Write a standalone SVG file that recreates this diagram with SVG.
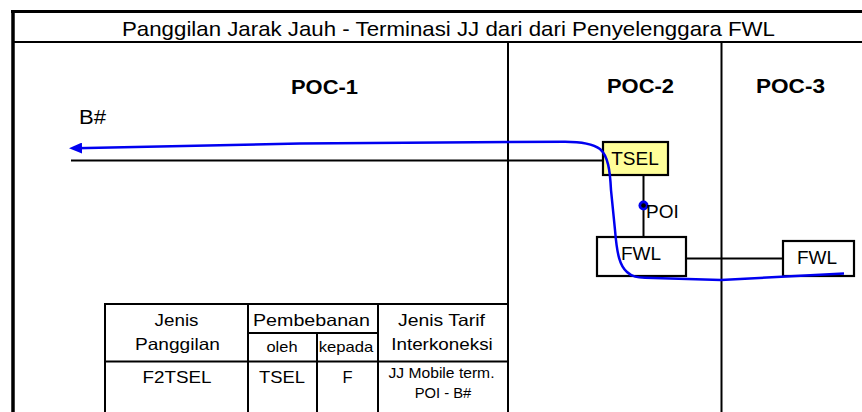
<svg xmlns="http://www.w3.org/2000/svg" width="862" height="412" viewBox="0 0 862 412">
<style>
text{font-family:"Liberation Sans",Arial,sans-serif;fill:#000}
.t{font-size:21px}
.poc{font-size:20px;font-weight:bold;text-anchor:middle}
.lbl{font-size:19px;text-anchor:middle}
.cell{font-size:16.5px;text-anchor:middle}
.sm{font-size:15px;text-anchor:middle}
.xs{font-size:14px;text-anchor:middle}
.ln{stroke:#000;stroke-width:2;fill:none}
.box{stroke:#000;stroke-width:2.2}
.blue{stroke:#0000f0;stroke-width:2.5;fill:none}
</style>
<defs>
<marker id="ah" viewBox="0 0 13 11" refX="7" refY="5.5" markerWidth="13" markerHeight="11" markerUnits="userSpaceOnUse" orient="auto-start-reverse">
<path d="M0,0 L13,5.5 L0,11 z" fill="#0000f0"/>
</marker>
</defs>
<rect width="862" height="412" fill="#fff"/>

<g id="frame">
<line x1="11" y1="11.5" x2="862" y2="11.5" stroke="#000" stroke-width="3"/>
<line x1="13" y1="10" x2="13" y2="412" stroke="#000" stroke-width="3.5"/>
<line x1="13" y1="42" x2="862" y2="42" class="ln"/>
<line x1="508" y1="42" x2="508" y2="412" class="ln"/>
<line x1="721.5" y1="42" x2="721.5" y2="412" class="ln"/>
<text class="t" x="122" y="36" textLength="653" lengthAdjust="spacingAndGlyphs">Panggilan Jarak Jauh - Terminasi JJ dari dari Penyelenggara FWL</text>
<text class="poc" x="324.5" y="94" textLength="67" lengthAdjust="spacingAndGlyphs">POC-1</text>
<text class="poc" x="640.5" y="93" textLength="67" lengthAdjust="spacingAndGlyphs">POC-2</text>
<text class="poc" x="790.5" y="93" textLength="69" lengthAdjust="spacingAndGlyphs">POC-3</text>
<text x="79" y="124" font-size="20" textLength="27" lengthAdjust="spacingAndGlyphs">B#</text>
</g>

<g id="table">
<line x1="104" y1="304" x2="508" y2="304" class="ln"/>
<line x1="105" y1="304" x2="105" y2="412" class="ln"/>
<line x1="248" y1="304" x2="248" y2="412" class="ln"/>
<line x1="317" y1="333" x2="317" y2="412" class="ln"/>
<line x1="378" y1="304" x2="378" y2="412" class="ln"/>
<line x1="248" y1="333" x2="378" y2="333" class="ln"/>
<line x1="105" y1="361.5" x2="508" y2="361.5" class="ln"/>
<text class="cell" x="176.5" y="325.5" textLength="44" lengthAdjust="spacingAndGlyphs">Jenis</text>
<text class="cell" x="177.5" y="350" textLength="85" lengthAdjust="spacingAndGlyphs">Panggilan</text>
<text class="cell" x="177" y="383" textLength="69" lengthAdjust="spacingAndGlyphs">F2TSEL</text>
<text class="cell" x="311.5" y="325.5" textLength="117" lengthAdjust="spacingAndGlyphs">Pembebanan</text>
<text class="sm" x="282" y="352" textLength="31" lengthAdjust="spacingAndGlyphs">oleh</text>
<text class="sm" x="346" y="352" textLength="54.6" lengthAdjust="spacingAndGlyphs">kepada</text>
<text class="cell" x="441.5" y="325.5" textLength="87" lengthAdjust="spacingAndGlyphs">Jenis Tarif</text>
<text class="cell" x="442" y="350" textLength="101.6" lengthAdjust="spacingAndGlyphs">Interkoneksi</text>
<text class="cell" x="282" y="383" textLength="46" lengthAdjust="spacingAndGlyphs">TSEL</text>
<text class="cell" x="347.5" y="383">F</text>
<text class="xs" x="441.5" y="378" textLength="106" lengthAdjust="spacingAndGlyphs">JJ Mobile term.</text>
<text class="xs" x="443" y="397.5" textLength="56.7" lengthAdjust="spacingAndGlyphs">POI - B#</text>
</g>

<g id="tsel">
<rect x="603" y="142" width="65" height="33" fill="#ffff99" class="box"/>
<text class="lbl" x="635" y="165">TSEL</text>
</g>

<g id="fwl1">
<rect x="597" y="237" width="89" height="39" fill="#fff" class="box"/>
<text class="lbl" x="641" y="260">FWL</text>
</g>

<g id="fwl2">
<rect x="783" y="241" width="71" height="35" fill="#fff" class="box"/>
<text class="lbl" x="817" y="264">FWL</text>
</g>

<g id="connectors">
<line x1="71" y1="160.5" x2="603" y2="160.5" class="ln"/>
<line x1="643.5" y1="175" x2="643.5" y2="237" class="ln"/>
<line x1="686" y1="258.5" x2="783" y2="258.5" class="ln"/>
<path class="blue" marker-start="url(#ah)" d="M75,148.2 L300,143.5 L565,141.7 C580,141.7 592,143 600,149 C608,156 610,170 611,190 L615,230 C617,255 620,266 627,272 C632,277 638,277.5 645,277.8 L721,280 L844,273.6"/>
</g>

<g id="poi">
<circle cx="643.5" cy="205.5" r="5" fill="#0000f0"/>
<circle cx="643.5" cy="205.5" r="2.3" fill="#000"/>
<text x="646" y="218" font-size="19">POI</text>
</g>
</svg>
